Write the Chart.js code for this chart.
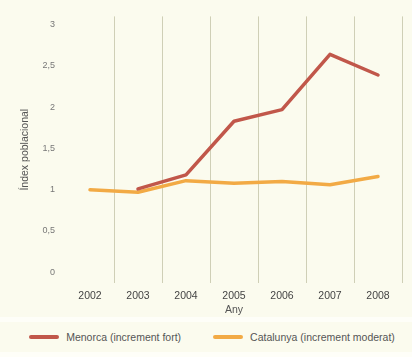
<!DOCTYPE html>
<html>
<head>
<meta charset="utf-8">
<script src="https://cdn.jsdelivr.net/npm/chart.js@4"></script>
<style>
html,body{margin:0;padding:0;background:#fefef8;}
#wrap{width:412px;height:357px;position:relative;background:#fefef8;}
#c{display:block;}
#legend{position:absolute;left:0;top:322px;width:412px;height:30px;background:#fbfbee;
  display:flex;align-items:center;justify-content:center;padding-left:12px;box-sizing:border-box;
  font-family:'Liberation Sans', Arial, Helvetica, sans-serif;font-size:10.5px;color:#555;}
.item{display:flex;align-items:center;}
.item + .item{margin-left:32px;}
.sw{display:inline-block;width:30px;height:4px;border-radius:2px;margin-right:7px;}
</style>
</head>
<body>
<div id="wrap"><canvas id="c" width="412" height="322"></canvas><div id="legend"></div></div>
<script>
const years = ['2002','2003','2004','2005','2006','2007','2008'];
const menorca = [null, 1.01, 1.18, 1.83, 1.97, 2.64, 2.39];
const catalunya = [1.00, 0.97, 1.11, 1.08, 1.10, 1.06, 1.16];
const yTickValues = [0, 0.5, 1, 1.5, 2, 2.5, 3];
const seriesNames = ['Menorca (increment fort)', 'Catalunya (increment moderat)'];
const seriesColors = ['#c1574a', '#f2aa45'];
const xTitle = 'Any';
const yTitle = 'Índex poblacional';

const FONT = "'Liberation Sans', Arial, Helvetica, sans-serif";

const bgPlugin = {
  id: 'bg',
  beforeDraw(chart) {
    const ctx = chart.ctx;
    ctx.save();
    ctx.fillStyle = '#fbfbee';
    ctx.fillRect(0, 0, chart.width, chart.height - 5);
    ctx.fillStyle = '#fefef8';
    ctx.fillRect(0, chart.height - 5, chart.width, 5);
    ctx.restore();
  }
};

const chart = new Chart(document.getElementById('c'), {
  type: 'line',
  data: {
    labels: years,
    datasets: [
      {label: seriesNames[0], data: menorca, borderColor: seriesColors[0], backgroundColor: seriesColors[0], borderWidth: 3.5, pointRadius: 0, tension: 0, borderJoinStyle: 'round', borderCapStyle: 'round'},
      {label: seriesNames[1], data: catalunya, borderColor: seriesColors[1], backgroundColor: seriesColors[1], borderWidth: 3.5, pointRadius: 0, tension: 0, borderJoinStyle: 'round', borderCapStyle: 'round'}
    ]
  },
  options: {
    responsive: false,
    animation: false,
    layout: {padding: {top: 15, right: 10, bottom: 0, left: 0}},
    plugins: {
      tooltip: {enabled: false},
      legend: {display: false}
    },
    scales: {
      x: {
        offset: true,
        border: {display: false},
        grid: {
          offset: true, drawTicks: false, lineWidth: 1,
          color: (c) => (c.index === 0 || c.index >= years.length) ? 'rgba(0,0,0,0)' : '#cfcfb6'
        },
        ticks: {color: '#444', font: {family: FONT, size: 10.5}, padding: 7},
        title: {display: true, text: xTitle, color: '#555', font: {family: FONT, size: 10.5}, padding: {top: 0, bottom: 6}},
        afterFit(s) { s.height = 39; }
      },
      y: {
        min: -0.13, max: 3.1,
        border: {display: false},
        grid: {display: false, drawTicks: false},
        afterBuildTicks(s) { s.ticks = yTickValues.map(v => ({value: v})); },
        ticks: {
          color: '#777', font: {family: FONT, size: 9}, padding: 11,
          callback: (v) => String(v).replace('.', ',')
        },
        title: {display: true, text: yTitle, color: '#555', font: {family: FONT, size: 10.5}, padding: {top: 19, bottom: 0}},
        afterFit(s) { s.width = 66; }
      }
    }
  },
  plugins: [bgPlugin]
});

// HTML legend generated from the chart's datasets
const legendEl = document.getElementById('legend');
chart.data.datasets.forEach(ds => {
  const item = document.createElement('div');
  item.className = 'item';
  const sw = document.createElement('span');
  sw.className = 'sw';
  sw.style.background = ds.borderColor;
  const tx = document.createElement('span');
  tx.textContent = ds.label;
  item.appendChild(sw);
  item.appendChild(tx);
  legendEl.appendChild(item);
});
</script>
</body>
</html>
